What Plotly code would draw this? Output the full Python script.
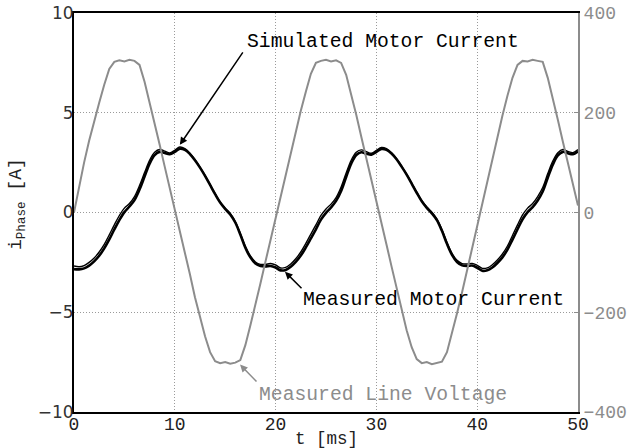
import plotly.graph_objects as go

# time grid [ms]
t_ms = [i * 0.5 for i in range(101)]

# measured line voltage [V] (right axis)
line_voltage = [
    0, 52, 100, 144, 184, 220, 256, 288, 302, 305,
    303, 306, 304, 296, 262, 222, 178, 136, 92, 50,
    6, -36, -80, -124, -170, -212, -248, -280, -298, -302,
    -300, -303, -301, -296, -266, -226, -186, -142, -98, -54,
    -10, 34, 78, 122, 164, 204, 242, 278, 300, 304,
    306, 303, 305, 300, 276, 238, 196, 152, 110, 66,
    22, -20, -64, -108, -152, -196, -236, -270, -294, -302,
    -300, -304, -301, -299, -280, -242, -202, -160, -116, -72,
    -22, 22, 66, 110, 154, 194, 234, 270, 296, 304,
    303, 306, 304, 302, 270, 230, 186, 142, 98, 56,
    14,
]

# simulated motor current [A]
sim_current = [
    -2.68, -2.72, -2.66, -2.50, -2.28, -1.98, -1.60, -1.12, -0.62, -0.15,
    0.22, 0.45, 0.80, 1.35, 2.00, 2.62, 3.02, 3.16, 3.08, 2.99,
    3.12, 3.28, 3.20, 2.97, 2.65, 2.28, 1.86, 1.40, 0.95, 0.52,
    0.22, -0.05, -0.45, -1.05, -1.70, -2.18, -2.48, -2.60, -2.60, -2.56,
    -2.63, -2.78, -2.75, -2.58, -2.32, -1.98, -1.55, -1.08, -0.62, -0.15,
    0.18, 0.42, 0.75, 1.28, 1.98, 2.62, 3.02, 3.14, 3.05, 2.97,
    3.12, 3.26, 3.20, 3.00, 2.70, 2.32, 1.92, 1.48, 1.02, 0.60,
    0.28, 0.02, -0.32, -0.85, -1.50, -2.05, -2.40, -2.56, -2.58, -2.55,
    -2.65, -2.80, -2.78, -2.62, -2.38, -2.08, -1.68, -1.15, -0.62, -0.12,
    0.22, 0.45, 0.80, 1.25, 1.95, 2.58, 3.00, 3.16, 3.06, 3.00,
    3.15,
]

# measured motor current [A]
meas_current = [
    -2.84, -2.85, -2.80, -2.66, -2.45, -2.17, -1.80, -1.35, -0.85, -0.38,
    0.02, 0.30, 0.62, 1.15, 1.80, 2.45, 2.88, 3.04, 2.98, 2.92,
    3.04, 3.20, 3.14, 2.93, 2.62, 2.25, 1.84, 1.38, 0.92, 0.50,
    0.18, -0.10, -0.50, -1.10, -1.76, -2.25, -2.56, -2.68, -2.70, -2.68,
    -2.76, -2.90, -2.88, -2.72, -2.48, -2.16, -1.75, -1.30, -0.84, -0.36,
    -0.02, 0.25, 0.58, 1.08, 1.78, 2.45, 2.88, 3.02, 2.95, 2.90,
    3.04, 3.18, 3.14, 2.96, 2.67, 2.30, 1.90, 1.45, 0.99, 0.56,
    0.23, -0.04, -0.38, -0.92, -1.57, -2.12, -2.48, -2.65, -2.68, -2.66,
    -2.77, -2.92, -2.90, -2.76, -2.53, -2.25, -1.86, -1.36, -0.84, -0.34,
    0.02, 0.27, 0.60, 1.05, 1.74, 2.40, 2.86, 3.04, 2.97, 2.92,
    3.06,
]

x_ticks = [0, 10, 20, 30, 40, 50]
y_ticks = [-10, -5, 0, 5, 10]
y2_ticks = [-400, -200, 0, 200, 400]

MONO = "Liberation Mono"
GRAY = "#8c8c8c"
GRID = "#9a9a9a"

fig = go.Figure()
fig.add_trace(go.Scatter(x=t_ms, y=meas_current, mode="lines",
                         line=dict(color="black", width=2.6, shape="spline"),
                         name="Measured Motor Current", showlegend=False))
fig.add_trace(go.Scatter(x=t_ms, y=sim_current, mode="lines",
                         line=dict(color="black", width=1.4, shape="spline"),
                         name="Simulated Motor Current", showlegend=False))
fig.add_trace(go.Scatter(x=t_ms, y=line_voltage, mode="lines", yaxis="y2",
                         line=dict(color=GRAY, width=2),
                         name="Measured Line Voltage", showlegend=False))

fig.update_layout(
    width=631, height=448,
    margin=dict(l=74, r=53, t=13, b=36, autoexpand=False),
    paper_bgcolor="white", plot_bgcolor="white",
    xaxis=dict(
        range=[0, 50], tickvals=x_ticks, showgrid=True, gridcolor=GRID,
        griddash="1px,2px", gridwidth=1, zeroline=False, automargin=False,
        showline=True, linecolor="black", linewidth=2, mirror=True,
        ticks="", ticklabelstandoff=-6,
        tickfont=dict(family=MONO, size=18, color="#222"),
    ),
    yaxis=dict(
        range=[-10, 10], tickvals=y_ticks, showgrid=True, gridcolor=GRID,
        griddash="1px,2px", gridwidth=1, zeroline=False, automargin=False,
        showline=True, linecolor="black", linewidth=2,
        ticks="", ticklabelstandoff=-5,
        tickfont=dict(family="DejaVu Sans", size=17, color="#333"),
    ),
    yaxis2=dict(
        range=[-400, 400], tickvals=y2_ticks, overlaying="y", side="right",
        showgrid=False, zeroline=False, automargin=False,
        showline=True, linecolor=GRAY, linewidth=2,
        ticks="inside", ticklen=4, tickcolor=GRAY,
        tickfont=dict(family=MONO, size=18, color=GRAY),
    ),
)

# axis titles
fig.add_annotation(x=0.5, y=-0.0677, xref="paper", yref="paper", text="t [ms]",
                   showarrow=False, xanchor="center", yanchor="middle",
                   font=dict(family=MONO, size=17.5, color="#222"))
fig.add_annotation(x=-0.112, y=0.52, xref="paper", yref="paper",
                   text="i<sub>Phase</sub> [A]", textangle=-90,
                   showarrow=False, xanchor="center", yanchor="middle",
                   font=dict(family=MONO, size=18, color="#222"))

# labels
fig.add_annotation(x=16.96, y=8.56, xref="x", yref="y", text="Simulated Motor Current",
                   showarrow=False, xanchor="left", yanchor="middle",
                   font=dict(family=MONO, size=19.7, color="black"))
fig.add_annotation(x=10.5, y=3.39, xref="x", yref="y", ax=16.85, ay=8.1,
                   axref="x", ayref="y", text="", showarrow=True,
                   arrowhead=2, arrowsize=1, arrowwidth=1.5, arrowcolor="black")

fig.add_annotation(x=22.55, y=-4.37, xref="x", yref="y", text="Measured Motor Current",
                   showarrow=False, xanchor="left", yanchor="middle",
                   font=dict(family=MONO, size=19.8, color="black"))
fig.add_annotation(x=20.93, y=-2.97, xref="x", yref="y", ax=22.72, ay=-3.87,
                   axref="x", ayref="y", text="", showarrow=True,
                   arrowhead=2, arrowsize=1, arrowwidth=1.5, arrowcolor="black")

fig.add_annotation(x=18.2, y=-366, xref="x", yref="y2", text="Measured Line Voltage",
                   showarrow=False, xanchor="left", yanchor="middle",
                   font=dict(family=MONO, size=19.7, color=GRAY))
fig.add_annotation(x=16.47, y=-305, xref="x", yref="y2", ax=18.25, ay=-342,
                   axref="x", ayref="y2", text="", showarrow=True,
                   arrowhead=2, arrowsize=1, arrowwidth=1.5, arrowcolor=GRAY)

fig.write_html("out.html")
